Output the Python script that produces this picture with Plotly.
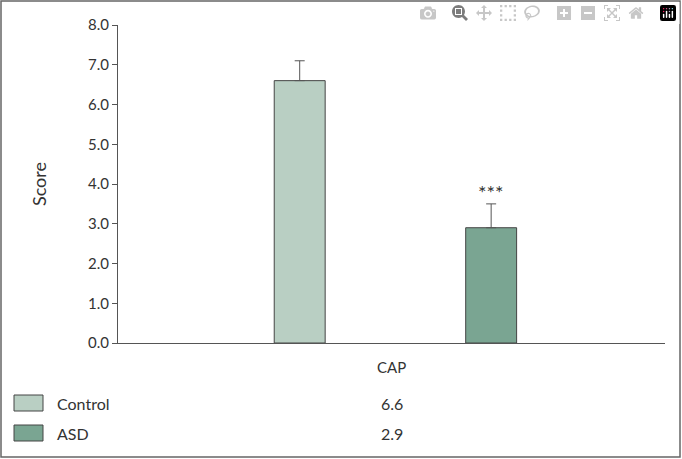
import plotly.graph_objects as go

groups = ["Control", "ASD"]
values = [6.6, 2.9]
errors = [0.5, 0.6]
colors = ["#b9cfc3", "#7aa592"]
category = "CAP"
y_ticks = [0, 1, 2, 3, 4, 5, 6, 7, 8]
y_tick_labels = ["%.1f" % v for v in y_ticks]

W, H = 682, 459
L, R, T, B = 118, 17, 25, 116
FONT = "Lato"

fig = go.Figure()
for i, (g, v, e, c) in enumerate(zip(groups, values, errors, colors)):
    fig.add_bar(x=[i + 1], y=[v], width=0.266, marker=dict(color=c, line=dict(color="#444", width=1)),
                error_y=dict(type="data", array=[e], symmetric=False, arrayminus=[0],
                             color="#555", thickness=1, width=5), showlegend=False, name=g)

fig.add_annotation(x=2, y=values[1] + errors[1], text="***", showarrow=False, yshift=12,
                   font=dict(size=20, color="#333"))

fig.add_annotation(xref="paper", yref="paper", x=0.5, y=-24 / (H - T - B), text=category,
                   showarrow=False, yanchor="middle", font=dict(size=15, color="#333"))

ph = H - T - B
pw = W - L - R
def py(y):
    return (H - B - y) / ph
def px(x):
    return (x - L) / pw

rows_y = [403, 433]
for g, v, c, ry in zip(groups, values, colors, rows_y):
    fig.add_shape(type="rect", xref="paper", yref="paper", x0=px(14), x1=px(43), y0=py(ry - 8), y1=py(ry + 8),
                  fillcolor=c, line=dict(color="#444", width=1))
    fig.add_annotation(xref="paper", yref="paper", x=px(55), y=py(ry), text=g, showarrow=False,
                       xanchor="left", yanchor="middle", font=dict(size=16, color="#333"))
    fig.add_annotation(xref="paper", yref="paper", x=0.5, y=py(ry), text="%.1f" % v, showarrow=False,
                       xanchor="center", yanchor="middle", font=dict(size=16, color="#333"))

fig.add_shape(type="rect", xref="paper", yref="paper", x0=px(1), x1=px(W - 2), y0=py(1), y1=py(H - 2),
              line=dict(color="#666", width=1.5), fillcolor="rgba(0,0,0,0)")

fig.update_layout(
    width=W, height=H, margin=dict(l=L, r=R, t=T, b=B),
    paper_bgcolor="white", plot_bgcolor="white",
    font=dict(family=FONT, size=15, color="#333"),
    xaxis=dict(range=[0.051, 2.908], showticklabels=False, ticks="", showline=True, linecolor="#555",
               linewidth=1, showgrid=False, zeroline=False),
    yaxis=dict(range=[0, 8], tickvals=y_ticks, ticktext=y_tick_labels, ticks="outside", ticklen=5,
               tickcolor="#555", showline=True, linecolor="#555", linewidth=1, showgrid=False,
               zeroline=False, title=dict(text="Score", standoff=36)),
)
fig.write_html("out.html")

with open("out.html", encoding="utf-8") as f:
    html = f.read()
html = html.replace("<head>", "<head><style>html,body{margin:0;padding:0;overflow:hidden;}</style>", 1)
with open("out.html", "w", encoding="utf-8") as f:
    f.write(html)
